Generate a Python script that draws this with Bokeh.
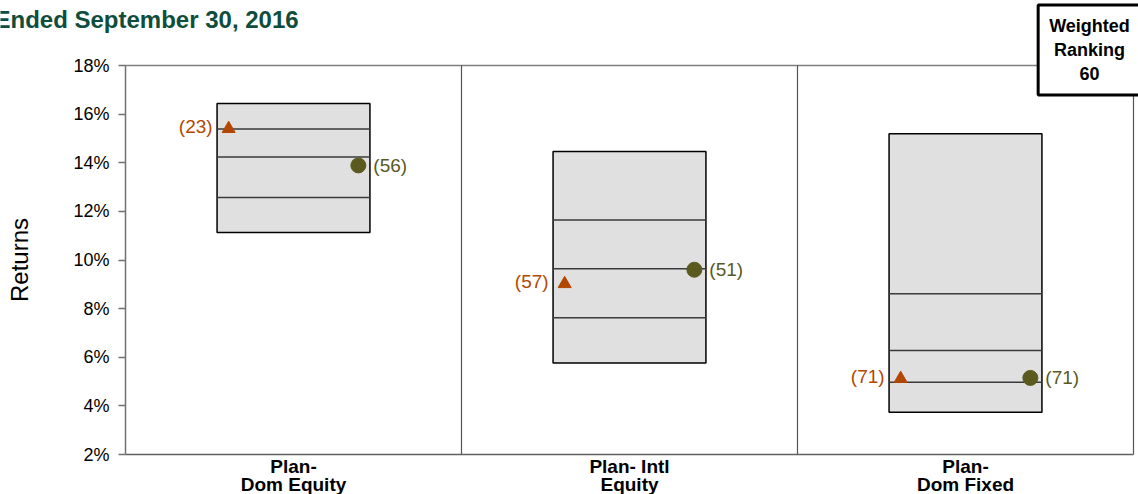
from bokeh.plotting import figure
from bokeh.models import FixedTicker, Label
from bokeh.core.properties import value
from bokeh.embed import file_html
from bokeh.resources import INLINE

# ---- data ----
categories = ["Plan-\nDom Equity", "Plan- Intl\nEquity", "Plan-\nDom Fixed"]
pct_top = [16.44, 14.46, 15.19]
pct_75 = [15.39, 11.65, 8.61]
pct_50 = [14.24, 9.64, 6.28]
pct_25 = [12.57, 7.62, 4.97]
pct_bottom = [11.13, 5.76, 3.74]
plan_returns = [15.40, 9.02, 5.12]
plan_ranks = [23, 57, 71]
policy_returns = [13.89, 9.60, 5.15]
policy_ranks = [56, 51, 71]
y_ticks = [2, 4, 6, 8, 10, 12, 14, 16, 18]
title_text = "Ended September 30, 2016"
ranking_text = "Weighted\nRanking\n60"

FONT = "Liberation Sans"
ORANGE = "#B34700"
OLIVE = "#5A5A1E"

# ---- layout (pixels) ----
W, H = 1138, 494
PLOT_L, PLOT_R, PLOT_T, PLOT_B = 125, 1133, 65, 454
n = len(categories)
y_lo, y_hi = y_ticks[0], y_ticks[-1]
ppx = (PLOT_R - PLOT_L) / n          # px per category
ppy = (PLOT_B - PLOT_T) / (y_hi - y_lo)  # px per percent
x_range = (-PLOT_L / ppx, n + (W - PLOT_R) / ppx)
y_range = (y_lo - (H - PLOT_B) / ppy, y_hi + PLOT_T / ppy)

centers = [i + 0.5 for i in range(n)]
half_w = 0.2275
mk_off = 0.193

p = figure(width=W, height=H, x_range=x_range, y_range=y_range,
           output_backend="svg", toolbar_location=None,
           min_border=0)
p.outline_line_color = None
p.background_fill_color = "white"
p.border_fill_color = "white"
p.xgrid.grid_line_color = None
p.ygrid.grid_line_color = None

# plot-area border (top and right) and category dividers
p.segment(x0=[0], x1=[n], y0=[y_hi], y1=[y_hi], line_color="#808080", line_width=1.3)
div_x = list(range(1, n + 1))
p.segment(x0=div_x, x1=div_x, y0=[y_lo] * n, y1=[y_hi] * n,
          line_color="#555555", line_width=1.2)

# boxes
p.quad(left=[c - half_w for c in centers], right=[c + half_w for c in centers],
       top=pct_top, bottom=pct_bottom,
       fill_color="#E0E0E0", line_color="black", line_width=1.5)
for arr in (pct_75, pct_50, pct_25):
    p.segment(x0=[c - half_w for c in centers], x1=[c + half_w for c in centers],
              y0=arr, y1=arr, line_color="#3a3a3a", line_width=1.5)

# markers
tri_x = [c - mk_off for c in centers]
cir_x = [c + mk_off for c in centers]
p.scatter(x=tri_x, y=plan_returns, marker="triangle", size=13,
          fill_color=ORANGE, line_color=ORANGE)
p.scatter(x=cir_x, y=policy_returns, marker="circle", size=15,
          fill_color=OLIVE, line_color=OLIVE)
p.text(x=tri_x, y=plan_returns, text=[f"({r})" for r in plan_ranks],
       x_offset=-16, y_offset=-2, text_align="right", text_baseline="middle",
       text_font=value(FONT), text_font_size="19px", text_color=ORANGE)
p.text(x=cir_x, y=policy_returns, text=[f"({r})" for r in policy_ranks],
       x_offset=15, text_align="left", text_baseline="middle",
       text_font=value(FONT), text_font_size="19px", text_color=OLIVE)

# axes (fixed inside the frame so that nothing gets clipped)
p.yaxis.fixed_location = 0
p.yaxis.bounds = (y_lo, y_hi)
p.yaxis.ticker = FixedTicker(ticks=y_ticks)
p.yaxis.major_label_overrides = {t: f"{t}%" for t in y_ticks}
p.yaxis.major_label_text_font = FONT
p.yaxis.major_label_text_font_size = "18px"
p.yaxis.major_label_text_color = "black"
p.yaxis.major_tick_out = 7
p.yaxis.major_tick_in = 0
p.yaxis.minor_tick_line_color = None
p.yaxis.major_label_standoff = 9
p.yaxis.axis_line_color = "#707070"
p.yaxis.axis_line_width = 1.5
p.yaxis.major_tick_line_color = "#707070"
p.yaxis.major_tick_line_width = 1.5
p.yaxis.axis_label = "Returns"
p.yaxis.axis_label_text_font = FONT
p.yaxis.axis_label_text_font_style = "normal"
p.yaxis.axis_label_text_font_size = "24px"
p.yaxis.axis_label_text_color = "black"
p.yaxis.axis_label_standoff = 37

p.xaxis.fixed_location = y_lo
p.xaxis.bounds = (0, n)
p.xaxis.ticker = FixedTicker(ticks=centers)
p.xaxis.major_label_overrides = {c: lab for c, lab in zip(centers, categories)}
p.xaxis.major_label_text_font = FONT
p.xaxis.major_label_text_font_style = "bold"
p.xaxis.major_label_text_font_size = "19px"
p.xaxis.major_label_text_line_height = 0.9
p.xaxis.major_label_text_color = "black"
p.xaxis.major_tick_out = 0
p.xaxis.major_tick_in = 0
p.xaxis.minor_tick_line_color = None
p.xaxis.major_label_standoff = 1
p.xaxis.axis_line_color = "#606060"
p.xaxis.axis_line_width = 1.5

# title (partially cut at the left edge like the reference)
p.add_layout(Label(x=-6, y=H - 19, x_units="screen", y_units="screen",
                   text=title_text, text_font=FONT, text_font_size="24px",
                   text_font_style="bold", text_color="#0F4D3C",
                   text_baseline="alphabetic", text_align="left"))

# weighted ranking box
p.add_layout(Label(x=1089, y=H - 49.5, x_units="screen", y_units="screen",
                   text=ranking_text, text_font=FONT, text_font_size="18px",
                   text_font_style="bold", text_color="black",
                   text_align="center", text_baseline="middle",
                   text_line_height=1.2, padding=11,
                   background_fill_color="white",
                   border_line_color="black", border_line_width=3))

open("out.html", "w").write(file_html(p, INLINE))
